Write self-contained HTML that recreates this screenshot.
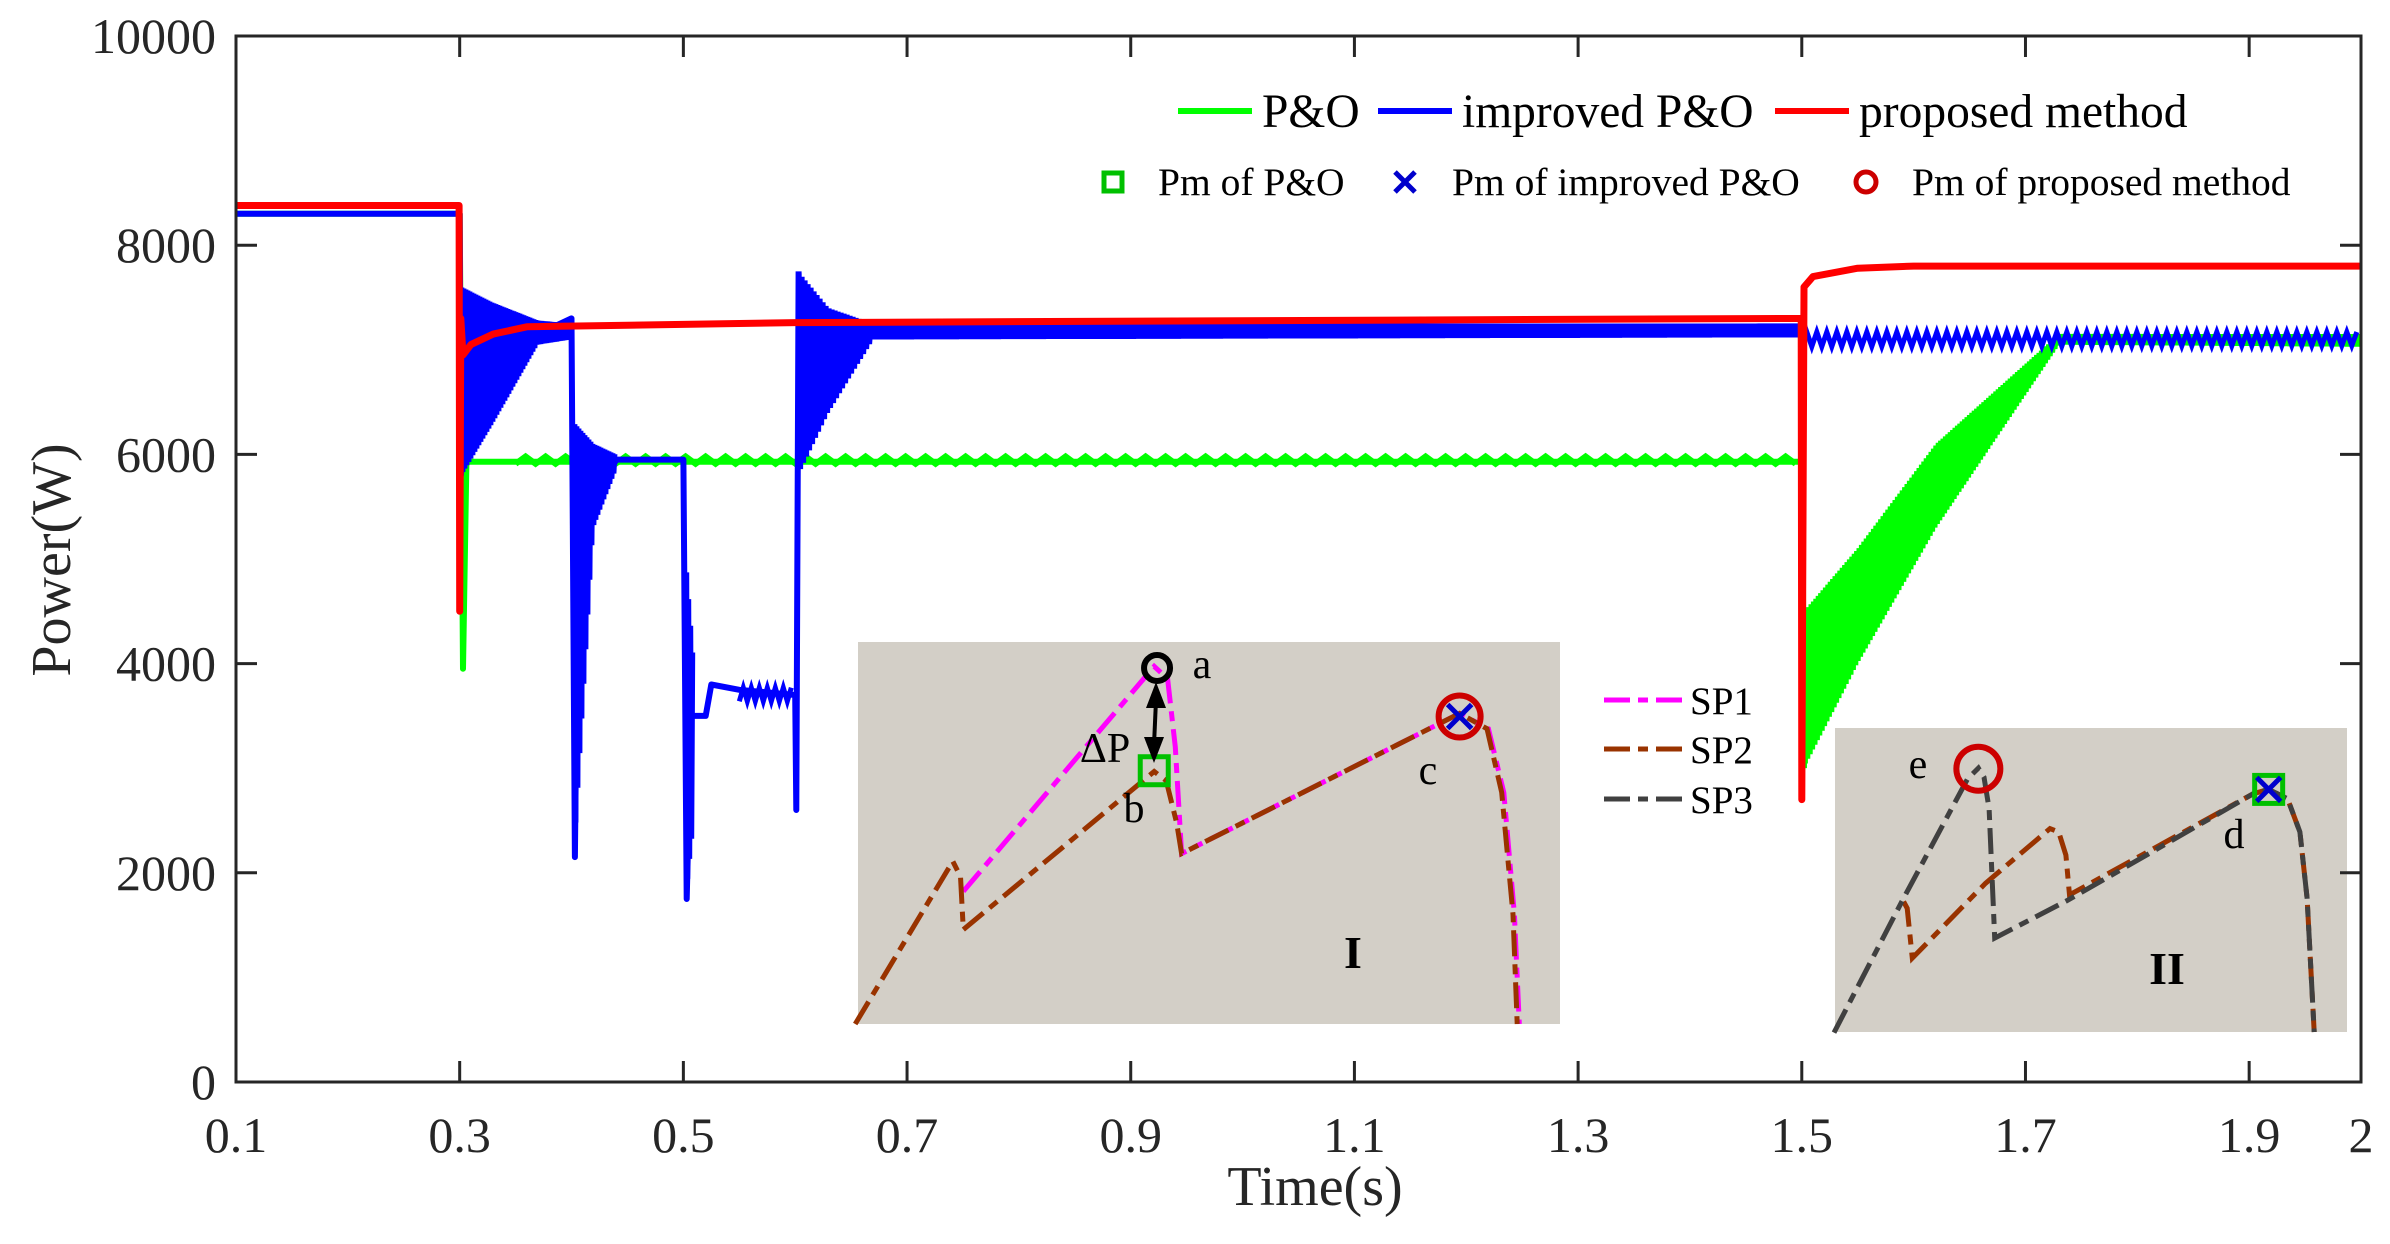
<!DOCTYPE html>
<html><head><meta charset="utf-8">
<style>
html,body{margin:0;padding:0;background:#fff;}
svg{display:block;font-family:"Liberation Serif","DejaVu Serif",serif;}
</style></head>
<body>
<svg id="chart" width="2390" height="1244" viewBox="0 0 2390 1244" xmlns="http://www.w3.org/2000/svg">
<rect width="2390" height="1244" fill="#fff"/>
<g id="data-layer"></g>
<g id="inset-layer"></g>
<g id="axes-layer"></g>
<g id="legend-layer"></g>
</svg>
<script>
// ---- main chart data ----
const xTicks = [0.1,0.3,0.5,0.7,0.9,1.1,1.3,1.5,1.7,1.9,2.0];
const xTickLabels = ["0.1","0.3","0.5","0.7","0.9","1.1","1.3","1.5","1.7","1.9","2"];
const yTicks = [0,2000,4000,6000,8000,10000];
const yTickLabels = ["0","2000","4000","6000","8000","10000"];

const greenLineT = [0.1,0.299,0.3,0.303,0.306,1.5,1.5005,1.502];
const greenLineV = [8300,8300,8300,3950,5930,5930,5930,3000];
const greenBandT = [0.35,1.5];
const greenBandLo = [5910,5910];
const greenBandHi = [5980,5980];
const greenBand2T = [1.502,1.55,1.62,1.73,2.0];
const greenBand2Lo = [3000,4000,5300,7050,7030];
const greenBand2Hi = [4500,5100,6100,7150,7150];

const blueLineT = [0.1,0.3,0.301,0.303,0.37,0.4,0.403,0.406,0.44,0.5,0.503,0.507,0.51,0.52,0.525,0.55,0.6,0.601,0.603];
const blueLineV = [8300,8300,5800,6000,7150,7300,2150,5300,5950,5950,1750,3500,3500,3500,3800,3750,3700,2600,7750];
const blueBand1T = [0.302,0.33,0.37,0.4];
const blueBand1Lo = [5800,6300,7050,7100];
const blueBand1Hi = [7600,7450,7280,7250];
const blueBand2T = [0.403,0.42,0.44];
const blueBand2Lo = [2150,5300,5850];
const blueBand2Hi = [6300,6100,6000];
const blueBand3T = [0.503,0.51];
const blueBand3Lo = [1750,2500];
const blueBand3Hi = [5000,4000];
const blueBand4T = [0.55,0.6];
const blueBand4Lo = [3640,3640];
const blueBand4Hi = [3770,3770];
const blueBand5T = [0.603,0.63,0.67,1.5];
const blueBand5Lo = [5800,6400,7100,7120];
const blueBand5Hi = [7750,7400,7250,7250];
const blueBand6T = [1.5,2.0];
const blueBand6Lo = [7030,7040];
const blueBand6Hi = [7170,7170];

const redT = [0.1,0.2995,0.3,0.301,0.303,0.31,0.33,0.36,0.6,1.4995,1.5,1.502,1.51,1.55,1.6,2.0];
const redV = [8380,8380,4500,7300,6950,7050,7150,7220,7260,7300,2700,7600,7700,7780,7800,7800];

// ---- inset data (normalised voltage %, power %) ----
const in1SP1U = [15,42.2,44.1,45.2,46.1,85.7,89.8,92,93.5,94.2];
const in1SP1P = [34.7,93.6,90.4,72.5,44.6,81.3,77.3,60.6,28.7,0];
const in1SP2U = [-0.4,13.5,14.6,15,42.2,43.9,45.4,46.1,85.7,89.6,91.7,93.3,93.9];
const in1SP2P = [0,42.6,38.6,24.7,66.1,63.7,52.6,44.6,81.3,77.3,60.6,28.7,0];
const in2SP3U = [-0.2,13.4,25.9,28,29.1,30.1,31.2,45.5,81.7,84.7,88.4,90.8,92.2,93.6];
const in2SP3P = [-0.2,44,83.3,86.8,83.8,73.5,30.9,43.4,78.4,79.8,76.7,65.8,44,0];
const in2SP2U = [13.4,14.1,15.1,29.4,42,43.7,45.1,45.8,81.7,84.7,88.4,90.8,92.2,93.6];
const in2SP2P = [42.9,40.7,24.3,48.9,66.9,65.8,58.2,45.1,78.4,79.8,76.7,65.8,44,0];

const NS = "http://www.w3.org/2000/svg";
const PL = 236, PR = 2361, PT = 36, PB = 1082;
const X0 = 0.1, X1 = 2.0, Y0 = 0, Y1 = 10000;
function xS(t){ return PL + (t - X0) / (X1 - X0) * (PR - PL); }
function yS(v){ return PB - (v - Y0) / (Y1 - Y0) * (PB - PT); }
function mk(tag, attrs, parent){
  const e = document.createElementNS(NS, tag);
  for (const k in attrs) e.setAttribute(k, attrs[k]);
  parent.appendChild(e);
  return e;
}
function interp(ts, vs, t){
  for (let i = 0; i < ts.length - 1; i++){
    if (t >= ts[i] && t <= ts[i+1]){
      const f = (t - ts[i]) / (ts[i+1] - ts[i] || 1);
      return vs[i] + f * (vs[i+1] - vs[i]);
    }
  }
  return vs[vs.length-1];
}
const dataL = document.getElementById('data-layer');
const clip = mk('clipPath', {id:'plotclip'}, dataL);
mk('rect', {x:PL, y:PT, width:PR-PL, height:PB-PT}, clip);
dataL.setAttribute('clip-path', 'url(#plotclip)');

function linePath(ts, vs){
  return ts.map((t,i)=> (i?'L':'M') + xS(t).toFixed(1) + ',' + yS(vs[i]).toFixed(1)).join(' ');
}
function bandPath(ts, lo, hi, step){
  let d = '';
  const xa = xS(ts[0]), xb = xS(ts[ts.length-1]);
  let k = 0;
  for (let px = xa; px <= xb; px += step, k++){
    const t = X0 + (px - PL) / (PR - PL) * (X1 - X0);
    const v = (k % 2 === 0) ? interp(ts, lo, t) : interp(ts, hi, t);
    d += (k ? 'L' : 'M') + px.toFixed(1) + ',' + yS(v).toFixed(1);
  }
  return d;
}
function drawBand(ts, lo, hi, color, name, step, w){
  const p = mk('path', {d: bandPath(ts, lo, hi, step), fill:'none', stroke:color, 'stroke-width':w, 'stroke-linejoin':'miter'}, dataL);
  
  
}
function drawLine(ts, vs, color, name, w){
  const p = mk('path', {d: linePath(ts, vs), fill:'none', stroke:color, 'stroke-width':w, 'stroke-linejoin':'round'}, dataL);
  
  
}
// green
drawLine(greenLineT, greenLineV, '#00ff00', 'po-line', 6);
drawBand(greenBandT, greenBandLo, greenBandHi, '#00ff00', 'po-ripple', 10, 6);
drawBand(greenBand2T, greenBand2Lo, greenBand2Hi, '#00ff00', 'po-recovery-band', 1.2, 3);
// blue
drawLine(blueLineT, blueLineV, '#0000ff', 'improved-po-line', 6);
drawBand(blueBand1T, blueBand1Lo, blueBand1Hi, '#0000ff', 'improved-po-band-1', 1, 3);
drawBand(blueBand2T, blueBand2Lo, blueBand2Hi, '#0000ff', 'improved-po-band-2', 1, 3);
drawBand(blueBand3T, blueBand3Lo, blueBand3Hi, '#0000ff', 'improved-po-band-3', 1, 3);
drawBand(blueBand4T, blueBand4Lo, blueBand4Hi, '#0000ff', 'improved-po-band-4', 4, 5);
drawBand(blueBand5T, blueBand5Lo, blueBand5Hi, '#0000ff', 'improved-po-band-5', 1.5, 3);
drawBand(blueBand6T, blueBand6Lo, blueBand6Hi, '#0000ff', 'improved-po-band-6', 5, 5);
// red
drawLine(redT, redV, '#ff0000', 'proposed-method-line', 7);

// ---- insets ----
const insL = document.getElementById('inset-layer');
function drawInset(box, name, series, marks, labels){
  const g = mk('g', {}, insL);
  
  
  const r = mk('rect', {x:box.x, y:box.y, width:box.w, height:box.h, fill:'#d3cfc7'}, g);
  
  
  const ux = u => box.x + u / 100 * box.w;
  const py = p => box.y + box.h - p / 100 * box.h;
  series.forEach(s => {
    const d = s.u.map((u,i)=>(i?'L':'M') + ux(u).toFixed(1) + ',' + py(s.p[i]).toFixed(1)).join(' ');
    const p = mk('path', {d, fill:'none', stroke:s.color, 'stroke-width':5, 'stroke-dasharray':'26 8 10 8'}, g);
    
    
  });
  marks.forEach(m => {
    const cx = ux(m.u), cy = py(m.p);
    let e;
    if (m.type === 'circle') e = mk('circle', {cx, cy, r:m.r, fill:'none', stroke:m.color, 'stroke-width':6}, g);
    else if (m.type === 'square') e = mk('rect', {x:cx-14, y:cy-14, width:28, height:28, fill:'none', stroke:m.color, 'stroke-width':5}, g);
    else e = mk('path', {d:`M${cx-12},${cy-12}L${cx+12},${cy+12}M${cx+12},${cy-12}L${cx-12},${cy+12}`, stroke:m.color, 'stroke-width':5}, g);
    
    
  });
  labels.forEach(l => {
    const t = mk('text', {x:l.x, y:l.y, 'font-size':l.fs, 'font-weight':l.bold?'bold':'normal', fill:'#000', 'text-anchor':'middle'}, g);
    t.textContent = l.t;
    
    
  });
}
drawInset({x:858, y:642, w:702, h:382}, 'inset-I',
  [{u:in1SP1U, p:in1SP1P, color:'#ff00ff', name:'inset-I-sp1'},
   {u:in1SP2U, p:in1SP2P, color:'#993300', name:'inset-I-sp2'}],
  [{type:'circle', u:42.6, p:93.2, r:13, color:'#000', name:'point-a-marker'},
   {type:'square', u:42.2, p:66.3, color:'#00c000', name:'point-b-marker'},
   {type:'circle', u:85.7, p:80.5, r:21, color:'#cc0000', name:'point-c-circle'},
   {type:'x', u:85.7, p:80.5, color:'#0000cc', name:'point-c-x'}],
  [{t:'a', x:1202, y:678, fs:42, name:'label-a'},
   {t:'b', x:1134, y:822, fs:42, name:'label-b'},
   {t:'c', x:1428, y:784, fs:42, name:'label-c'},
   {t:'ΔP', x:1105, y:762, fs:42, name:'label-delta-p'},
   {t:'I', x:1353, y:968, fs:46, bold:true, name:'label-I'}]);
// delta-P arrow
const arr = mk('g', {}, insL);


mk('line', {x1:1156, y1:700, x2:1154, y2:745, stroke:'#000', 'stroke-width':4}, arr);
mk('path', {d:'M1156,682 L1146,708 L1166,708 Z', fill:'#000'}, arr);
mk('path', {d:'M1154,763 L1144,737 L1164,737 Z', fill:'#000'}, arr);

drawInset({x:1835, y:728, w:512, h:304}, 'inset-II',
  [{u:in2SP2U, p:in2SP2P, color:'#993300', name:'inset-II-sp2'},
   {u:in2SP3U, p:in2SP3P, color:'#404040', name:'inset-II-sp3'}],
  [{type:'circle', u:28, p:86.6, r:22, color:'#cc0000', name:'point-e-circle'},
   {type:'square', u:84.7, p:79.8, color:'#00c000', name:'point-d-square'},
   {type:'x', u:84.7, p:79.8, color:'#0000cc', name:'point-d-x'}],
  [{t:'e', x:1918, y:778, fs:42, name:'label-e'},
   {t:'d', x:2234, y:848, fs:42, name:'label-d'},
   {t:'II', x:2167, y:984, fs:46, bold:true, name:'label-II'}]);

// SP legend
const spNames = ['SP1','SP2','SP3'];
const spColors = ['#ff00ff','#993300','#404040'];
const spY = [700,749,799];
spNames.forEach((n,i)=>{
  const g = mk('g', {}, insL);
  
  
  mk('line', {x1:1604, y1:spY[i], x2:1682, y2:spY[i], stroke:spColors[i], 'stroke-width':5, 'stroke-dasharray':'26 8 10 8'}, g);
  const t = mk('text', {x:1690, y:spY[i]+14, 'font-size':39, fill:'#000'}, g);
  t.textContent = n;
});

// ---- axes ----
const axL = document.getElementById('axes-layer');
const frame = mk('rect', {x:PL, y:PT, width:PR-PL, height:PB-PT, fill:'none', stroke:'#262626', 'stroke-width':3}, axL);


xTicks.forEach((t,i)=>{
  const x = xS(t);
  mk('line', {x1:x, y1:PB, x2:x, y2:PB-21, stroke:'#262626', 'stroke-width':3}, axL);
  mk('line', {x1:x, y1:PT, x2:x, y2:PT+21, stroke:'#262626', 'stroke-width':3}, axL);
  const tx = mk('text', {x:x, y:1152, 'font-size':50, fill:'#262626', 'text-anchor':'middle'}, axL);
  tx.textContent = xTickLabels[i];
  
  
});
yTicks.forEach((v,i)=>{
  const y = yS(v);
  mk('line', {x1:PL, y1:y, x2:PL+21, y2:y, stroke:'#262626', 'stroke-width':3}, axL);
  mk('line', {x1:PR, y1:y, x2:PR-21, y2:y, stroke:'#262626', 'stroke-width':3}, axL);
  const tx = mk('text', {x:216, y:y+17, 'font-size':50, fill:'#262626', 'text-anchor':'end'}, axL);
  tx.textContent = yTickLabels[i];
  
  
});
const xt = mk('text', {x:1315, y:1205, 'font-size':56, fill:'#262626', 'text-anchor':'middle'}, axL);
xt.textContent = 'Time(s)';


const yt = mk('text', {x:0, y:0, 'font-size':56, fill:'#262626', 'text-anchor':'middle', transform:'translate(70,560) rotate(-90)'}, axL);
yt.textContent = 'Power(W)';



// ---- main legend ----
const lgL = document.getElementById('legend-layer');
const lg1Names = ['P&O','improved P&O','proposed method'];
const lg1Colors = ['#00ff00','#0000ff','#ff0000'];
const lg1X = [1178,1378,1775];
lg1Names.forEach((n,i)=>{
  const g = mk('g', {}, lgL);
  
  
  mk('line', {x1:lg1X[i], y1:111, x2:lg1X[i]+74, y2:111, stroke:lg1Colors[i], 'stroke-width':6}, g);
  const t = mk('text', {x:lg1X[i]+84, y:127, 'font-size':47.5, fill:'#000'}, g);
  t.textContent = n;
});
const lg2Names = ['Pm of P&O','Pm of improved P&O','Pm of proposed method'];
const lg2X = [1113,1405,1866];
const lg2TextX = [1158,1452,1912];
lg2Names.forEach((n,i)=>{
  const g = mk('g', {}, lgL);
  
  
  const cx = lg2X[i], cy = 182;
  if (i === 0) mk('rect', {x:cx-9, y:cy-9, width:18, height:18, fill:'none', stroke:'#00c000', 'stroke-width':5}, g);
  else if (i === 1) mk('path', {d:`M${cx-10},${cy-10}L${cx+10},${cy+10}M${cx+10},${cy-10}L${cx-10},${cy+10}`, stroke:'#0000cc', 'stroke-width':5}, g);
  else mk('circle', {cx, cy, r:10, fill:'none', stroke:'#cc0000', 'stroke-width':5}, g);
  const t = mk('text', {x:lg2TextX[i], y:195, 'font-size':39.5, fill:'#000'}, g);
  t.textContent = n;
});
</script>
</body></html>
